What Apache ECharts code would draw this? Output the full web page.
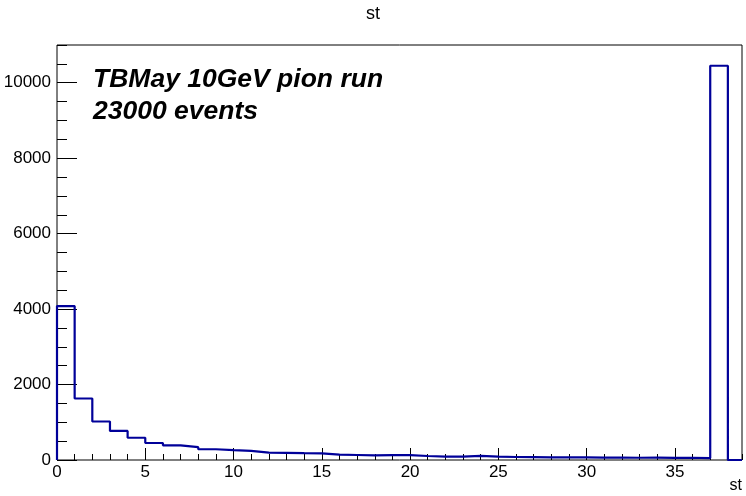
<!DOCTYPE html>
<html>
<head>
<meta charset="utf-8">
<script src="https://cdn.jsdelivr.net/npm/echarts@6/dist/echarts.min.js"></script>
<style>
  html, body { margin: 0; padding: 0; background: #fff; }
  #chart { width: 746px; height: 496px; }
</style>
</head>
<body>
<div id="chart"></div>
<script>
// Histogram of "st": unit-width bins starting at 0
const binStart = 0;
const binWidth = 1;
const counts = [
  4080, 1630, 1020, 770, 590, 450, 390, 340, 285, 260,
  240, 195, 190, 180, 178, 140, 132, 124, 128, 130,
  106, 90, 88, 110, 88, 80, 76, 70, 68, 72,
  64, 66, 60, 62, 58, 60, 52, 10450
];
const xRange = [0, 38.8];
const yRange = [0, 11000];
const xMajor = 5, xMinor = 1;
const yMajor = 2000, yMinor = 500;

// Bin low edges with their contents; drawn with a step line that holds
// each value across its bin before dropping to the next one
const steps = [[binStart, 0]];
counts.forEach((c, i) => steps.push([binStart + i * binWidth, c]));
steps.push([binStart + counts.length * binWidth, 0], [xRange[1], 0]);

const font = 'Liberation Sans, Arial, Helvetica, sans-serif';
const plain = v => String(v);
const chart = echarts.init(document.getElementById('chart'));

const xBase = {
  type: 'value', min: xRange[0], max: xRange[1],
  axisLine: { show: false }, splitLine: { show: false }
};
const yBase = {
  type: 'value', min: yRange[0], max: yRange[1],
  axisLine: { show: false }, splitLine: { show: false }
};

chart.setOption({
  animation: false,
  backgroundColor: '#fff',
  title: {
    text: 'st', left: 'center', top: 0,
    textStyle: { fontFamily: font, fontSize: 18, fontWeight: 'normal', color: '#000' }
  },
  grid: {
    left: 57, right: 4, top: 45, bottom: 36,
    show: true, borderColor: '#000', borderWidth: 1, backgroundColor: 'transparent'
  },
  xAxis: [
    Object.assign({}, xBase, {
      interval: xMajor,
      axisTick: { show: true, inside: true, length: 12, lineStyle: { color: '#000' } },
      axisLabel: {
        show: true, margin: 4, showMaxLabel: false, formatter: plain,
        fontFamily: font, fontSize: 17, color: '#000'
      }
    }),
    Object.assign({}, xBase, {
      position: 'bottom', interval: xMinor,
      axisTick: { show: true, inside: true, length: 6, lineStyle: { color: '#000' } },
      axisLabel: { show: false }
    })
  ],
  yAxis: [
    Object.assign({}, yBase, {
      interval: yMajor,
      axisTick: { show: true, inside: true, length: 20, lineStyle: { color: '#000' } },
      axisLabel: {
        show: true, margin: 6, showMaxLabel: false, formatter: plain,
        fontFamily: font, fontSize: 17, color: '#000'
      }
    }),
    Object.assign({}, yBase, {
      position: 'left', interval: yMinor,
      axisTick: { show: true, inside: true, length: 10, lineStyle: { color: '#000' } },
      axisLabel: { show: false }
    })
  ],
  series: [{
    type: 'line',
    step: 'end',
    xAxisIndex: 0, yAxisIndex: 0,
    data: steps,
    symbol: 'none',
    lineStyle: { color: '#000099', width: 2.2 },
    z: 3
  }],
  graphic: [
    {
      type: 'text', left: 93, top: 64,
      style: {
        text: 'TBMay 10GeV pion run\n23000 events',
        font: 'italic bold 26.5px ' + font,
        lineHeight: 32, fill: '#000'
      }
    },
    {
      type: 'text', right: 4, top: 478,
      style: { text: 'st', font: '16px ' + font, fill: '#000' }
    }
  ]
});
</script>
</body>
</html>
